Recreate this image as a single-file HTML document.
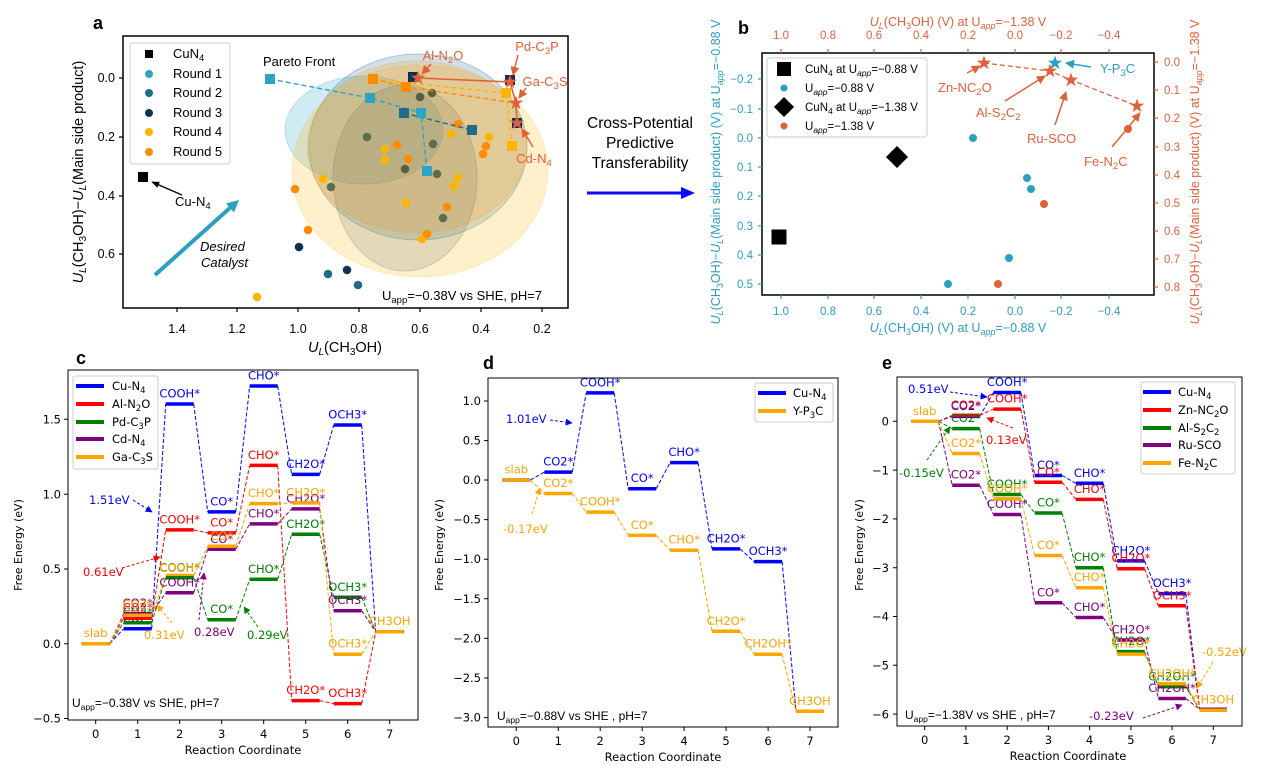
<!DOCTYPE html>
<html><head><meta charset="utf-8"><style>
html,body{margin:0;padding:0;background:#fff;}
svg{display:block}
.A{font-family:"Liberation Sans",Arial,sans-serif}
.D{font-family:"DejaVu Sans","Liberation Sans",sans-serif}
</style></head><body>
<svg width="1267" height="777" viewBox="0 0 1267 777" xmlns="http://www.w3.org/2000/svg">
<defs>
<path id="st" d="M0,-7.5 L1.76,-2.43 L7.13,-2.32 L2.85,0.93 L4.41,6.07 L0,3 L-4.41,6.07 L-2.85,0.93 L-7.13,-2.32 L-1.76,-2.43 Z"/>
<marker id="ak" viewBox="0 0 10 10" refX="9" refY="5" markerWidth="8" markerHeight="8" markerUnits="userSpaceOnUse" orient="auto"><path d="M0,1L10,5L0,9z" fill="#000"/></marker>
<marker id="arr" viewBox="0 0 10 10" refX="9" refY="5" markerWidth="9" markerHeight="9" markerUnits="userSpaceOnUse" orient="auto"><path d="M0,0L10,5L0,10z" fill="#e0603a"/></marker>
<marker id="at" viewBox="0 0 10 10" refX="9" refY="5" markerWidth="9" markerHeight="9" markerUnits="userSpaceOnUse" orient="auto"><path d="M0,0L10,5L0,10z" fill="#2a9fc2"/></marker>
<marker id="ab" viewBox="0 0 10 10" refX="9" refY="5" markerWidth="7" markerHeight="7" markerUnits="userSpaceOnUse" orient="auto"><path d="M0,0L10,5L0,10z" fill="#0000ff"/></marker>
<marker id="ar" viewBox="0 0 10 10" refX="9" refY="5" markerWidth="7" markerHeight="7" markerUnits="userSpaceOnUse" orient="auto"><path d="M0,0L10,5L0,10z" fill="#ff0000"/></marker>
<marker id="ag" viewBox="0 0 10 10" refX="9" refY="5" markerWidth="7" markerHeight="7" markerUnits="userSpaceOnUse" orient="auto"><path d="M0,0L10,5L0,10z" fill="#008000"/></marker>
<marker id="ap" viewBox="0 0 10 10" refX="9" refY="5" markerWidth="7" markerHeight="7" markerUnits="userSpaceOnUse" orient="auto"><path d="M0,0L10,5L0,10z" fill="#800080"/></marker>
<marker id="ao" viewBox="0 0 10 10" refX="9" refY="5" markerWidth="7" markerHeight="7" markerUnits="userSpaceOnUse" orient="auto"><path d="M0,0L10,5L0,10z" fill="#ffa500"/></marker>
</defs>
<rect width="1267" height="777" fill="#fff"/>

<!-- ================= PANEL A ================= -->
<g class="A">
<text x="93" y="29" font-size="18" font-weight="bold">a</text>
<!-- ellipses -->
<ellipse cx="364" cy="130" rx="79" ry="54" fill="#2ea3c4" fill-opacity="0.22" stroke="#2ea3c4" stroke-opacity="0.25"/>
<ellipse cx="418" cy="147" rx="109" ry="93" fill="#1f6b8c" fill-opacity="0.2" stroke="#1f6b8c" stroke-opacity="0.3"/>
<ellipse cx="405" cy="178" rx="72" ry="93" fill="#0e3350" fill-opacity="0.14" stroke="#0e3350" stroke-opacity="0.2"/>
<ellipse cx="420" cy="171" rx="128" ry="106" fill="#ffb400" fill-opacity="0.2" stroke="#ffb400" stroke-opacity="0.2"/>
<ellipse cx="417" cy="147" rx="110" ry="86" fill="#ff8c00" fill-opacity="0.18" stroke="#ff8c00" stroke-opacity="0.2"/>
<!-- points -->
<g fill="#55613d">
<circle cx="420" cy="97" r="4.3"/><circle cx="432" cy="93" r="4.3"/><circle cx="405" cy="169" r="4.3"/>
</g>
<g fill="#5b6e4b">
<circle cx="367" cy="137" r="4.3"/><circle cx="433" cy="144" r="4.3"/><circle cx="437" cy="174" r="4.3"/><circle cx="331" cy="187" r="4.3"/><circle cx="443" cy="218" r="4.3"/>
</g>
<g fill="#ffb400">
<circle cx="385" cy="149" r="4.3"/><circle cx="385" cy="160" r="4.3"/><circle cx="451" cy="134" r="4.3"/><circle cx="489" cy="137" r="4.3"/><circle cx="323" cy="179" r="4.3"/><circle cx="458" cy="178" r="4.3"/><circle cx="454" cy="186" r="4.3"/><circle cx="406" cy="203" r="4.3"/><circle cx="422" cy="239" r="4.3"/><circle cx="257" cy="297" r="4.3"/>
</g>
<g fill="#ff8c00">
<circle cx="458" cy="124" r="4.3"/><circle cx="397" cy="145" r="4.3"/><circle cx="408" cy="159" r="4.3"/><circle cx="486" cy="146" r="4.3"/><circle cx="483" cy="154" r="4.3"/><circle cx="295" cy="189" r="4.3"/><circle cx="308" cy="230" r="4.3"/><circle cx="447" cy="207" r="4.3"/><circle cx="427" cy="234" r="4.3"/>
</g>
<g fill="#0e3350"><circle cx="299" cy="247" r="4.3"/><circle cx="347" cy="270" r="4.3"/></g>
<g fill="#1f6b8c"><circle cx="328" cy="274" r="4.3"/><circle cx="358" cy="285" r="4.3"/></g>
<!-- pareto lines -->
<path d="M270,79 L370,98 L421,113 L427,171" fill="none" stroke="#2ea3c4" stroke-width="1.4" stroke-dasharray="5,3"/>
<path d="M404,113 L472,130" fill="none" stroke="#1f6b8c" stroke-width="1.4" stroke-dasharray="5,3"/>
<path d="M380,80 L506,93 L512,146" fill="none" stroke="#ffb400" stroke-width="1.4" stroke-dasharray="5,3"/>
<path d="M373,79 L406,87 L516,103" fill="none" stroke="#ff8c00" stroke-width="1.4" stroke-dasharray="5,3"/>
<!-- squares -->
<g fill="#2ea3c4"><rect x="265" y="74" width="10" height="10"/><rect x="365" y="93" width="10" height="10"/><rect x="416" y="108" width="10" height="10"/><rect x="422" y="166" width="10" height="10"/></g>
<g fill="#1f6b8c"><rect x="399" y="108" width="10" height="10"/><rect x="467" y="125" width="10" height="10"/></g>
<g fill="#ff8c00"><rect x="368" y="74" width="10" height="10"/><rect x="401" y="82" width="10" height="10"/></g>
<g fill="#ffb400"><rect x="501" y="88" width="10" height="10"/><rect x="507" y="141" width="10" height="10"/></g>
<g fill="#0e3350"><rect x="408" y="72" width="10" height="10"/><rect x="505" y="75" width="10" height="10"/><rect x="512" y="118" width="10" height="10"/></g>
<path d="M418,78 L510,82 L516,103 L517,123" fill="none" stroke="#e0603a" stroke-width="1.6"/>
<g fill="#e0603a">
<use href="#st" x="418" y="78"/><use href="#st" x="510" y="82"/><use href="#st" x="516" y="103"/><use href="#st" x="517" y="123"/>
</g>
<!-- annotations -->
<g fill="#e0603a" font-size="13">
<text x="443" y="60" text-anchor="middle">Al-N<tspan dy="3" font-size="9.5">2</tspan><tspan dy="-3">O</tspan></text>
<text x="537" y="51" text-anchor="middle">Pd-C<tspan dy="3" font-size="9.5">3</tspan><tspan dy="-3">P</tspan></text>
<text x="545" y="86" text-anchor="middle">Ga-C<tspan dy="3" font-size="9.5">3</tspan><tspan dy="-3">S</tspan></text>
<text x="534" y="163" text-anchor="middle">Cd-N<tspan dy="3" font-size="9.5">4</tspan></text>
</g>
<g stroke="#e0603a" stroke-width="1.5" fill="none">
<path d="M431,64 L422,74" marker-end="url(#arr)"/>
<path d="M518,55 L513,75" marker-end="url(#arr)"/>
<path d="M526,88 L519,98" marker-end="url(#arr)"/>
<path d="M533,147 L522,129" marker-end="url(#arr)"/>
</g>
<text x="263" y="66" font-size="13">Pareto Front</text>
<rect x="138" y="172" width="10" height="10" fill="#000"/>
<path d="M182,195 L152,182" stroke="#000" stroke-width="1.3" marker-end="url(#ak)"/>
<text x="175" y="206" font-size="13">Cu-N<tspan dy="3" font-size="9.5">4</tspan></text>
<path d="M155,275 L231,207" stroke="#2a9fc2" stroke-width="4"/>
<polygon points="239,200 234.0,212.5 226.0,203.5" fill="#2a9fc2"/>
<text x="200" y="251" font-size="13" font-style="italic">Desired</text>
<text x="201" y="267" font-size="13" font-style="italic">Catalyst</text>
<text x="382" y="300" font-size="13">U<tspan dy="3" font-size="9.5">app</tspan><tspan dy="-3">=−0.38V vs SHE, pH=7</tspan></text>
<!-- legend -->
<rect x="130" y="43" width="100" height="121" rx="3" fill="#fff" fill-opacity="0.85" stroke="#cccccc"/>
<rect x="145" y="50" width="8" height="8" fill="#000"/>
<circle cx="149" cy="74" r="4" fill="#2ea3c4"/>
<circle cx="149" cy="93" r="4" fill="#1f6b8c"/>
<circle cx="149" cy="113" r="4" fill="#0e3350"/>
<circle cx="149" cy="132" r="4" fill="#ffb400"/>
<circle cx="149" cy="152" r="4" fill="#ff8c00"/>
<g font-size="13">
<text x="173" y="58">CuN<tspan dy="3" font-size="9.5">4</tspan></text>
<text x="173" y="78">Round 1</text>
<text x="173" y="97">Round 2</text>
<text x="173" y="117">Round 3</text>
<text x="173" y="136">Round 4</text>
<text x="173" y="156">Round 5</text>
</g>
<!-- axes -->
<rect x="123" y="36" width="445" height="272" fill="none" stroke="#000" stroke-width="1.5"/>
<path d="M177,308v4M237,308v4M298,308v4M359,308v4M420,308v4M481,308v4M542,308v4M119,78h4M119,137h4M119,196h4M119,254h4" stroke="#000" stroke-width="1.2"/>
<g font-size="12.5" text-anchor="middle">
<text x="177" y="333">1.4</text><text x="237" y="333">1.2</text><text x="298" y="333">1.0</text><text x="359" y="333">0.8</text><text x="420" y="333">0.6</text><text x="481" y="333">0.4</text><text x="542" y="333">0.2</text>
</g>
<g font-size="12.5" text-anchor="end">
<text x="115" y="82">0.0</text><text x="115" y="141">0.2</text><text x="115" y="200">0.4</text><text x="115" y="258">0.6</text>
</g>
<text x="345" y="352" font-size="14.5" text-anchor="middle"><tspan font-style="italic">U</tspan><tspan font-style="italic" dy="3" font-size="10">L</tspan><tspan dy="-3">(CH</tspan><tspan dy="3" font-size="10">3</tspan><tspan dy="-3">OH)</tspan></text>
<text transform="translate(83,172) rotate(-90)" font-size="14.5" text-anchor="middle"><tspan font-style="italic">U</tspan><tspan font-style="italic" dy="3" font-size="10">L</tspan><tspan dy="-3">(CH</tspan><tspan dy="3" font-size="10">3</tspan><tspan dy="-3">OH)−</tspan><tspan font-style="italic">U</tspan><tspan font-style="italic" dy="3" font-size="10">L</tspan><tspan dy="-3">(Main side product)</tspan></text>
</g>

<!-- ================= MIDDLE ================= -->
<g class="A" font-size="15.5" text-anchor="middle">
<text x="640" y="128">Cross-Potential</text>
<text x="640" y="148">Predictive</text>
<text x="640" y="168">Transferability</text>
</g>
<path d="M587,193 L682,193" stroke="#0a0aff" stroke-width="3"/>
<polygon points="695,193 681,187 681,199" fill="#0a0aff"/>

<!-- ================= PANEL B ================= -->
<g class="A">
<text x="738" y="34" font-size="18" font-weight="bold">b</text>
<rect x="762" y="53" width="392" height="242" fill="none" stroke="#000" stroke-width="1.5"/>
<!-- bottom ticks -->
<path d="M781,295v4M828,295v4M874,295v4M921,295v4M968,295v4M1015,295v4M1061,295v4M1109,295v4M758,79h4M758,109h4M758,138h4M758,167h4M758,196h4M758,226h4M758,255h4M758,284h4" stroke="#2a9fc2" stroke-width="1.2"/>
<path d="M781,53v-4M828,53v-4M874,53v-4M921,53v-4M968,53v-4M1015,53v-4M1061,53v-4M1109,53v-4M1154,62h4M1154,90h4M1154,118h4M1154,147h4M1154,175h4M1154,203h4M1154,231h4M1154,259h4M1154,287h4" stroke="#e0603a" stroke-width="1.2"/>
<g font-size="11.5" fill="#2a9fc2" text-anchor="middle">
<text x="781" y="315">1.0</text><text x="828" y="315">0.8</text><text x="874" y="315">0.6</text><text x="921" y="315">0.4</text><text x="968" y="315">0.2</text><text x="1015" y="315">0.0</text><text x="1061" y="315">−0.2</text><text x="1109" y="315">−0.4</text>
</g>
<g font-size="11.5" fill="#2a9fc2" text-anchor="end">
<text x="753" y="83">−0.2</text><text x="753" y="113">−0.1</text><text x="753" y="142">0.0</text><text x="753" y="171">0.1</text><text x="753" y="200">0.2</text><text x="753" y="230">0.3</text><text x="753" y="259">0.4</text><text x="753" y="288">0.5</text>
</g>
<g font-size="11.5" fill="#e0603a" text-anchor="middle">
<text x="781" y="39">1.0</text><text x="828" y="39">0.8</text><text x="874" y="39">0.6</text><text x="921" y="39">0.4</text><text x="968" y="39">0.2</text><text x="1015" y="39">0.0</text><text x="1061" y="39">−0.2</text><text x="1109" y="39">−0.4</text>
</g>
<g font-size="11.5" fill="#e0603a">
<text x="1164" y="66">0.0</text><text x="1164" y="94">0.1</text><text x="1164" y="122">0.2</text><text x="1164" y="151">0.3</text><text x="1164" y="179">0.4</text><text x="1164" y="207">0.5</text><text x="1164" y="235">0.6</text><text x="1164" y="263">0.7</text><text x="1164" y="291">0.8</text>
</g>
<text x="958" y="332" font-size="12.5" fill="#2a9fc2" text-anchor="middle"><tspan font-style="italic">U</tspan><tspan font-style="italic" dy="3" font-size="9">L</tspan><tspan dy="-3">(CH</tspan><tspan dy="3" font-size="9">3</tspan><tspan dy="-3">OH) (V) at U</tspan><tspan dy="3" font-size="9" font-style="italic">app</tspan><tspan dy="-3">=−0.88 V</tspan></text>
<text x="958" y="26" font-size="12.5" fill="#e0603a" text-anchor="middle"><tspan font-style="italic">U</tspan><tspan font-style="italic" dy="3" font-size="9">L</tspan><tspan dy="-3">(CH</tspan><tspan dy="3" font-size="9">3</tspan><tspan dy="-3">OH) (V) at U</tspan><tspan dy="3" font-size="9" font-style="italic">app</tspan><tspan dy="-3">=−1.38 V</tspan></text>
<text transform="translate(720,172) rotate(-90)" font-size="12.5" fill="#2a9fc2" text-anchor="middle"><tspan font-style="italic">U</tspan><tspan font-style="italic" dy="3" font-size="9">L</tspan><tspan dy="-3">(CH</tspan><tspan dy="3" font-size="9">3</tspan><tspan dy="-3">OH)−</tspan><tspan font-style="italic">U</tspan><tspan font-style="italic" dy="3" font-size="9">L</tspan><tspan dy="-3">(Main side product) (V) at U</tspan><tspan dy="3" font-size="9" font-style="italic">app</tspan><tspan dy="-3">=−0.88 V</tspan></text>
<text transform="translate(1199,172) rotate(-90)" font-size="12.5" fill="#e0603a" text-anchor="middle"><tspan font-style="italic">U</tspan><tspan font-style="italic" dy="3" font-size="9">L</tspan><tspan dy="-3">(CH</tspan><tspan dy="3" font-size="9">3</tspan><tspan dy="-3">OH)−</tspan><tspan font-style="italic">U</tspan><tspan font-style="italic" dy="3" font-size="9">L</tspan><tspan dy="-3">(Main side product) (V) at U</tspan><tspan dy="3" font-size="9" font-style="italic">app</tspan><tspan dy="-3">=−1.38 V</tspan></text>
<!-- data -->
<rect x="771.5" y="229.5" width="15" height="15" fill="#000"/>
<polygon points="897,146 908,157 897,168 886,157" fill="#000"/>
<g fill="#2a9fc2"><circle cx="973" cy="138" r="4"/><circle cx="948" cy="284" r="4"/><circle cx="1027" cy="178" r="4"/><circle cx="1031" cy="189" r="4"/><circle cx="1009" cy="258" r="4"/></g>
<g fill="#e0603a"><circle cx="1044" cy="204" r="4"/><circle cx="998" cy="284" r="4"/><circle cx="1128" cy="129" r="4"/></g>
<path d="M984,63 L1050,71 L1071,80 L1137,106" fill="none" stroke="#e0603a" stroke-width="1.3" stroke-dasharray="5,3"/>
<g fill="#e0603a"><use href="#st" x="984" y="63"/><use href="#st" x="1050" y="71"/><use href="#st" x="1071" y="80"/><use href="#st" x="1137" y="106"/></g>
<use href="#st" x="1055" y="63" fill="#2a9fc2"/>
<g font-size="13" fill="#e0603a">
<text x="938" y="92">Zn-NC<tspan dy="3" font-size="9.5">2</tspan><tspan dy="-3">O</tspan></text>
<text x="976" y="117">Al-S<tspan dy="3" font-size="9.5">2</tspan><tspan dy="-3">C</tspan><tspan dy="3" font-size="9.5">2</tspan></text>
<text x="1027" y="143">Ru-SCO</text>
<text x="1084" y="166">Fe-N<tspan dy="3" font-size="9.5">2</tspan><tspan dy="-3">C</tspan></text>
</g>
<text x="1100" y="73" font-size="13" fill="#2a9fc2">Y-P<tspan dy="3" font-size="9.5">3</tspan><tspan dy="-3">C</tspan></text>
<g stroke="#e0603a" stroke-width="1.5" fill="none">
<path d="M967,73 L980,66" marker-end="url(#arr)"/>
<path d="M1005,101 L1045,76" marker-end="url(#arr)"/>
<path d="M1055,125 L1066,92" marker-end="url(#arr)"/>
<path d="M1112,147 L1140,113" marker-end="url(#arr)"/>
</g>
<path d="M1091,67 L1066,63" stroke="#2a9fc2" stroke-width="1.5" marker-end="url(#at)"/>
<!-- legend -->
<rect x="767" y="58" width="160" height="79" rx="3" fill="#fff" fill-opacity="0.85" stroke="#cccccc"/>
<rect x="777" y="62" width="14" height="14" fill="#000"/>
<circle cx="784" cy="88" r="3.5" fill="#2a9fc2"/>
<polygon points="784,97 794,107 784,117 774,107" fill="#000"/>
<circle cx="784" cy="126" r="3.5" fill="#e0603a"/>
<g font-size="11.5">
<text x="805" y="73">CuN<tspan dy="3" font-size="8.5">4</tspan><tspan dy="-3"> at U</tspan><tspan dy="3" font-size="8.5" font-style="italic">app</tspan><tspan dy="-3">=−0.88 V</tspan></text>
<text x="805" y="92">U<tspan dy="3" font-size="8.5" font-style="italic">app</tspan><tspan dy="-3">=−0.88 V</tspan></text>
<text x="805" y="111">CuN<tspan dy="3" font-size="8.5">4</tspan><tspan dy="-3"> at U</tspan><tspan dy="3" font-size="8.5" font-style="italic">app</tspan><tspan dy="-3">=−1.38 V</tspan></text>
<text x="805" y="130">U<tspan dy="3" font-size="8.5" font-style="italic">app</tspan><tspan dy="-3">=−1.38 V</tspan></text>
</g>
</g>

<!-- ================= PANEL C ================= -->
<g class="D">
<text x="76" y="364" font-size="18" font-weight="bold" class="A">c</text>
<!-- Cu blue -->
<path d="M81.7,643.7H109.7M123.7,628.7H151.7M165.7,404H193.7M207.7,511.9H235.7M249.7,386H277.7M291.7,474.4H319.7M333.7,425H361.7M375.7,631.7H403.7" stroke="#0000ff" stroke-width="3.5"/>
<path d="M109.7,643.7L123.7,628.7M151.7,628.7L165.7,404M193.7,404L207.7,511.9M235.7,511.9L249.7,386M277.7,386L291.7,474.4M319.7,474.4L333.7,425M361.7,425L375.7,631.7" stroke="#0000ff" stroke-width="1" stroke-dasharray="4,2" fill="none"/>
<g fill="#0000ff" font-size="11.5" text-anchor="middle">
<text x="137.7" y="622">CO2*</text><text x="179.7" y="397.5">COOH*</text><text x="221.7" y="505.4">CO*</text><text x="263.7" y="379.5">CHO*</text><text x="305.7" y="467.9">CH2O*</text><text x="347.7" y="418.5">OCH3*</text>
</g>
<!-- Al red -->
<path d="M81.7,643.7H109.7M123.7,618.2H151.7M165.7,529.9H193.7M207.7,532.9H235.7M249.7,465.4H277.7M291.7,700.6H319.7M333.7,703.6H361.7M375.7,631.7H403.7" stroke="#ff0000" stroke-width="3.5"/>
<path d="M109.7,643.7L123.7,618.2M151.7,618.2L165.7,529.9M193.7,529.9L207.7,532.9M235.7,532.9L249.7,465.4M277.7,465.4L291.7,700.6M319.7,700.6L333.7,703.6M361.7,703.6L375.7,631.7" stroke="#ff0000" stroke-width="1" stroke-dasharray="4,2" fill="none"/>
<g fill="#ff0000" font-size="11.5" text-anchor="middle">
<text x="137.7" y="611.7">CO2*</text><text x="179.7" y="523.4">COOH*</text><text x="221.7" y="526.4">CO*</text><text x="263.7" y="458.9">CHO*</text><text x="305.7" y="694.1">CH2O*</text><text x="347.7" y="697.1">OCH3*</text>
</g>
<!-- Ga orange COOH drawn beneath green -->
<path d="M165.7,575.5H193.7" stroke="#ffa500" stroke-width="3.5"/>
<!-- Pd green -->
<path d="M81.7,643.7H109.7M123.7,622.7H151.7M165.7,577.8H193.7M207.7,619.7H235.7M249.7,579.3H277.7M291.7,534.3H319.7M333.7,597.3H361.7M375.7,631.7H403.7" stroke="#008000" stroke-width="3.5"/>
<path d="M109.7,643.7L123.7,622.7M151.7,622.7L165.7,577.8M193.7,577.8L207.7,619.7M235.7,619.7L249.7,579.3M277.7,579.3L291.7,534.3M319.7,534.3L333.7,597.3M361.7,597.3L375.7,631.7" stroke="#008000" stroke-width="1" stroke-dasharray="4,2" fill="none"/>
<g fill="#008000" font-size="11.5" text-anchor="middle">
<text x="137.7" y="616.2">CO2*</text><text x="179.7" y="571.3">COOH*</text><text x="221.7" y="613.2">CO*</text><text x="263.7" y="572.8">CHO*</text><text x="305.7" y="527.8">CH2O*</text><text x="347.7" y="590.8">OCH3*</text>
</g>
<!-- Cd purple -->
<path d="M81.7,643.7H109.7M123.7,613.7H151.7M165.7,592.8H193.7M207.7,549.3H235.7M249.7,523.9H277.7M291.7,508.9H319.7M333.7,610.7H361.7M375.7,631.7H403.7" stroke="#800080" stroke-width="3.5"/>
<path d="M109.7,643.7L123.7,613.7M151.7,613.7L165.7,592.8M193.7,592.8L207.7,549.3M235.7,549.3L249.7,523.9M277.7,523.9L291.7,508.9M319.7,508.9L333.7,610.7M361.7,610.7L375.7,631.7" stroke="#800080" stroke-width="1" stroke-dasharray="4,2" fill="none"/>
<g fill="#800080" font-size="11.5" text-anchor="middle">
<text x="137.7" y="607.2">CO2*</text><text x="179.7" y="586.3">COOH*</text><text x="221.7" y="542.8">CO*</text><text x="263.7" y="517.4">CHO*</text><text x="305.7" y="502.4">CH2O*</text><text x="347.7" y="604.2">OCH3*</text>
</g>
<!-- Ga orange -->
<path d="M81.7,643.7H109.7M123.7,615.2H151.7M207.7,546.3H235.7M249.7,503.6H277.7M291.7,502.9H319.7M333.7,654.2H361.7M375.7,631.7H403.7" stroke="#ffa500" stroke-width="3.5"/>
<path d="M109.7,643.7L123.7,615.2M151.7,615.2L165.7,575.5M193.7,575.5L207.7,546.3M235.7,546.3L249.7,503.6M277.7,503.6L291.7,502.9M319.7,502.9L333.7,654.2M361.7,654.2L375.7,631.7" stroke="#ffa500" stroke-width="1" stroke-dasharray="4,2" fill="none"/>
<g fill="#ffa500" font-size="11.5" text-anchor="middle">
<text x="95.7" y="637.2">slab</text><text x="137.7" y="608.7">CO2*</text><text x="179.7" y="572">COOH*</text><text x="221.7" y="539.8">CO*</text><text x="263.7" y="497.1">CHO*</text><text x="305.7" y="496.4">CH2O*</text><text x="347.7" y="647.7">OCH3*</text><text x="389.7" y="625.2">CH3OH</text>
</g>
<!-- annotations -->
<g font-size="11.5">
<text x="89" y="504" fill="#0000ff">1.51eV</text>
<text x="83" y="576" fill="#ff0000">0.61eV</text>
<text x="144" y="639" fill="#ffa500">0.31eV</text>
<text x="194" y="636" fill="#800080">0.28eV</text>
<text x="247" y="639" fill="#008000">0.29eV</text>
</g>
<g stroke-width="1" stroke-dasharray="3,2" fill="none">
<path d="M133,500 L152,512" stroke="#0000ff" marker-end="url(#ab)"/>
<path d="M122,568 L160,557" stroke="#ff0000" marker-end="url(#ar)"/>
<path d="M172,623 L157,605" stroke="#ffa500" marker-end="url(#ao)"/>
<path d="M199,620 L204,573" stroke="#800080" marker-end="url(#ap)"/>
<path d="M258,627 L244,607" stroke="#008000" marker-end="url(#ag)"/>
</g>
<text x="72" y="707" font-size="12" class="A">U<tspan dy="3" font-size="8.5">app</tspan><tspan dy="-3">=−0.38V vs SHE, pH=7</tspan></text>
<!-- legend -->
<rect x="73" y="376" width="85" height="93" rx="2" fill="#fff" fill-opacity="0.85" stroke="#cccccc"/>
<path d="M76,386H104" stroke="#0000ff" stroke-width="4"/>
<path d="M76,404H104" stroke="#ff0000" stroke-width="4"/>
<path d="M76,422H104" stroke="#008000" stroke-width="4"/>
<path d="M76,439H104" stroke="#800080" stroke-width="4"/>
<path d="M76,457H104" stroke="#ffa500" stroke-width="4"/>
<g font-size="11.5">
<text x="112" y="390">Cu-N<tspan dy="3" font-size="8.5">4</tspan></text>
<text x="112" y="408">Al-N<tspan dy="3" font-size="8.5">2</tspan><tspan dy="-3">O</tspan></text>
<text x="112" y="426">Pd-C<tspan dy="3" font-size="8.5">3</tspan><tspan dy="-3">P</tspan></text>
<text x="112" y="443">Cd-N<tspan dy="3" font-size="8.5">4</tspan></text>
<text x="112" y="461">Ga-C<tspan dy="3" font-size="8.5">3</tspan><tspan dy="-3">S</tspan></text>
</g>
<!-- axes -->
<rect x="68" y="370" width="350" height="350" fill="none" stroke="#000" stroke-width="1"/>
<path d="M95.7,720v4M137.7,720v4M179.7,720v4M221.7,720v4M263.7,720v4M305.7,720v4M347.7,720v4M389.7,720v4M64,419.3h4M64,494.2h4M64,569h4M64,643.7h4M64,718.5h4" stroke="#000" stroke-width="1"/>
<g font-size="11.5" text-anchor="middle">
<text x="95.7" y="738">0</text><text x="137.7" y="738">1</text><text x="179.7" y="738">2</text><text x="221.7" y="738">3</text><text x="263.7" y="738">4</text><text x="305.7" y="738">5</text><text x="347.7" y="738">6</text><text x="389.7" y="738">7</text>
<text x="243" y="754">Reaction Coordinate</text>
</g>
<g font-size="11.5" text-anchor="end">
<text x="61" y="423.5">1.5</text><text x="61" y="498.4">1.0</text><text x="61" y="573.2">0.5</text><text x="61" y="647.9">0.0</text><text x="61" y="722.7">−0.5</text>
</g>
<text transform="translate(22,545) rotate(-90)" font-size="11" text-anchor="middle">Free Energy (eV)</text>
</g>

<!-- ================= PANEL D ================= -->
<g class="D">
<text x="483" y="369" font-size="18" font-weight="bold" class="A">d</text>
<!-- Cu -->
<path d="M502.3,480H530.3M544.3,472.1H572.3M586.2,392.9H614.2M628.2,488.7H656.2M670.1,462.6H698.1M712.1,548.9H740.1M754.1,561.6H782.1M796,711.3H824" stroke="#0000ff" stroke-width="3.5"/>
<path d="M530.3,480L544.3,472.1M572.3,472.1L586.2,392.9M614.2,392.9L628.2,488.7M656.2,488.7L670.1,462.6M698.1,462.6L712.1,548.9M740.1,548.9L754.1,561.6M782.1,561.6L796,711.3" stroke="#0000ff" stroke-width="1" stroke-dasharray="4,2" fill="none"/>
<g fill="#0000ff" font-size="11.5" text-anchor="middle">
<text x="558.3" y="465.6">CO2*</text><text x="600.2" y="386.4">COOH*</text><text x="642.2" y="482.2">CO*</text><text x="684.1" y="456.1">CHO*</text><text x="726.1" y="542.4">CH2O*</text><text x="768.1" y="555.1">OCH3*</text>
</g>
<!-- Y-P3C -->
<path d="M502.3,480H530.3M544.3,493.5H572.3M586.2,512.1H614.2M628.2,535.4H656.2M670.1,550.2H698.1M712.1,631.3H740.1M754.1,654.2H782.1M796,711.3H824" stroke="#ffa500" stroke-width="3.5"/>
<path d="M530.3,480L544.3,493.5M572.3,493.5L586.2,512.1M614.2,512.1L628.2,535.4M656.2,535.4L670.1,550.2M698.1,550.2L712.1,631.3M740.1,631.3L754.1,654.2M782.1,654.2L796,711.3" stroke="#ffa500" stroke-width="1" stroke-dasharray="4,2" fill="none"/>
<g fill="#ffa500" font-size="11.5" text-anchor="middle">
<text x="516.3" y="473.5">slab</text><text x="558.3" y="487">CO2*</text><text x="600.2" y="505.6">COOH*</text><text x="642.2" y="528.9">CO*</text><text x="684.1" y="543.7">CHO*</text><text x="726.1" y="624.8">CH2O*</text><text x="768.1" y="647.7">CH2OH*</text><text x="810" y="704.8">CH3OH</text>
</g>
<text x="506" y="423" font-size="11.5" fill="#0000ff">1.01eV</text>
<text x="503" y="533" font-size="11.5" fill="#ffa500">-0.17eV</text>
<path d="M550,420 L572,423" stroke="#0000ff" stroke-width="1" stroke-dasharray="3,2" marker-end="url(#ab)"/>
<path d="M532,514 L540,488" stroke="#ffa500" stroke-width="1" stroke-dasharray="3,2" marker-end="url(#ao)"/>
<text x="497" y="720" font-size="12" class="A">U<tspan dy="3" font-size="8.5">app</tspan><tspan dy="-3">=−0.88V vs SHE , pH=7</tspan></text>
<rect x="755" y="383" width="78" height="39" rx="2" fill="#fff" fill-opacity="0.85" stroke="#cccccc"/>
<path d="M758,393H786" stroke="#0000ff" stroke-width="4"/>
<path d="M758,411H786" stroke="#ffa500" stroke-width="4"/>
<g font-size="11.5">
<text x="793" y="397">Cu-N<tspan dy="3" font-size="8.5">4</tspan></text>
<text x="793" y="415">Y-P<tspan dy="3" font-size="8.5">3</tspan><tspan dy="-3">C</tspan></text>
</g>
<rect x="488" y="378" width="350" height="349" fill="none" stroke="#000" stroke-width="1"/>
<path d="M516.3,727v4M558.3,727v4M600.2,727v4M642.2,727v4M684.1,727v4M726.1,727v4M768.1,727v4M810,727v4M484,401h4M484,440.6h4M484,480h4M484,519.6h4M484,559.2h4M484,598.8h4M484,638.4h4M484,678h4M484,717.6h4" stroke="#000" stroke-width="1"/>
<g font-size="11.5" text-anchor="middle">
<text x="516.3" y="745">0</text><text x="558.3" y="745">1</text><text x="600.2" y="745">2</text><text x="642.2" y="745">3</text><text x="684.1" y="745">4</text><text x="726.1" y="745">5</text><text x="768.1" y="745">6</text><text x="810" y="745">7</text>
<text x="663" y="761">Reaction Coordinate</text>
</g>
<g font-size="11.5" text-anchor="end">
<text x="481" y="405">1.0</text><text x="481" y="444.6">0.5</text><text x="481" y="484">0.0</text><text x="481" y="523.6">−0.5</text><text x="481" y="563.2">−1.0</text><text x="481" y="602.8">−1.5</text><text x="481" y="642.4">−2.0</text><text x="481" y="682">−2.5</text><text x="481" y="721.6">−3.0</text>
</g>
<text transform="translate(443,545) rotate(-90)" font-size="11" text-anchor="middle">Free Energy (eV)</text>
</g>

<!-- ================= PANEL E ================= -->
<g class="D">
<text x="882" y="369" font-size="18" font-weight="bold" class="A">e</text>
<!-- Cu -->
<path d="M911,421.3H938.4M952.2,416.4H979.6M993.5,392.5H1020.9M1034.7,475.5H1062.1M1075.9,483.3H1103.3M1117.2,560.9H1144.6M1158.4,593.6H1185.8M1199.6,709.2H1227" stroke="#0000ff" stroke-width="3.5"/>
<path d="M938.4,421.3L952.2,416.4M979.6,416.4L993.5,392.5M1020.9,392.5L1034.7,475.5M1062.1,475.5L1075.9,483.3M1103.3,483.3L1117.2,560.9M1144.6,560.9L1158.4,593.6M1185.8,593.6L1199.6,709.2" stroke="#0000ff" stroke-width="1" stroke-dasharray="4,2" fill="none"/>
<g fill="#0000ff" font-size="11.5" text-anchor="middle">
<text x="965.9" y="409.9">CO2*</text><text x="1007.2" y="386">COOH*</text><text x="1048.4" y="469">CO*</text><text x="1089.6" y="476.8">CHO*</text><text x="1130.9" y="554.4">CH2O*</text><text x="1172.1" y="587.1">OCH3*</text>
</g>
<!-- Zn red -->
<path d="M911,421.3H938.4M952.2,415.4H979.6M993.5,409.1H1020.9M1034.7,482.3H1062.1M1075.9,499.4H1103.3M1117.2,568.7H1144.6M1158.4,605.8H1185.8M1199.6,709.2H1227" stroke="#ff0000" stroke-width="3.5"/>
<path d="M938.4,421.3L952.2,415.4M979.6,415.4L993.5,409.1M1020.9,409.1L1034.7,482.3M1062.1,482.3L1075.9,499.4M1103.3,499.4L1117.2,568.7M1144.6,568.7L1158.4,605.8M1185.8,605.8L1199.6,709.2" stroke="#ff0000" stroke-width="1" stroke-dasharray="4,2" fill="none"/>
<g fill="#ff0000" font-size="11.5" text-anchor="middle">
<text x="965.9" y="408.9">CO2*</text><text x="1007.2" y="402.6">COOH*</text><text x="1048.4" y="475.8">CO*</text><text x="1089.6" y="492.9">CHO*</text><text x="1130.9" y="562.2">CH2O*</text><text x="1172.1" y="599.3">OCH3*</text>
</g>
<!-- Al green -->
<path d="M911,421.3H938.4M952.2,428.6H979.6M993.5,494.5H1020.9M1034.7,513H1062.1M1075.9,567.7H1103.3M1117.2,651.6H1144.6M1158.4,686.8H1185.8M1199.6,709.2H1227" stroke="#008000" stroke-width="3.5"/>
<path d="M938.4,421.3L952.2,428.6M979.6,428.6L993.5,494.5M1020.9,494.5L1034.7,513M1062.1,513L1075.9,567.7M1103.3,567.7L1117.2,651.6M1144.6,651.6L1158.4,686.8M1185.8,686.8L1199.6,709.2" stroke="#008000" stroke-width="1" stroke-dasharray="4,2" fill="none"/>
<g fill="#008000" font-size="11.5" text-anchor="middle">
<text x="965.9" y="422.1">CO2*</text><text x="1007.2" y="488">COOH*</text><text x="1048.4" y="506.5">CO*</text><text x="1089.6" y="561.2">CHO*</text><text x="1130.9" y="645.1">CH2O*</text><text x="1172.1" y="680.3">CH2OH*</text>
</g>
<!-- Ru purple -->
<path d="M911,421.3H938.4M952.2,485.2H979.6M993.5,514.5H1020.9M1034.7,602.8H1062.1M1075.9,617.5H1103.3M1117.2,640H1144.6M1158.4,698.5H1185.8M1199.6,709.2H1227" stroke="#800080" stroke-width="3.5"/>
<path d="M938.4,421.3L952.2,485.2M979.6,485.2L993.5,514.5M1020.9,514.5L1034.7,602.8M1062.1,602.8L1075.9,617.5M1103.3,617.5L1117.2,640M1144.6,640L1158.4,698.5M1185.8,698.5L1199.6,709.2" stroke="#800080" stroke-width="1" stroke-dasharray="4,2" fill="none"/>
<g fill="#800080" font-size="11.5" text-anchor="middle">
<text x="965.9" y="478.7">CO2*</text><text x="1007.2" y="508">COOH*</text><text x="1048.4" y="596.3">CO*</text><text x="1089.6" y="611">CHO*</text><text x="1130.9" y="633.5">CH2O*</text><text x="1172.1" y="692">CH2OH*</text>
</g>
<!-- Fe orange -->
<path d="M911,421.3H938.4M952.2,453.5H979.6M993.5,498.9H1020.9M1034.7,555.5H1062.1M1075.9,587.7H1103.3M1117.2,654.1H1144.6M1158.4,683.8H1185.8M1199.6,710.2H1227" stroke="#ffa500" stroke-width="3.5"/>
<path d="M938.4,421.3L952.2,453.5M979.6,453.5L993.5,498.9M1020.9,498.9L1034.7,555.5M1062.1,555.5L1075.9,587.7M1103.3,587.7L1117.2,654.1M1144.6,654.1L1158.4,683.8M1185.8,683.8L1199.6,710.2" stroke="#ffa500" stroke-width="1" stroke-dasharray="4,2" fill="none"/>
<g fill="#ffa500" font-size="11.5" text-anchor="middle">
<text x="924.7" y="414.8">slab</text><text x="965.9" y="447">CO2*</text><text x="1007.2" y="492.4">COOH*</text><text x="1048.4" y="549">CO*</text><text x="1089.6" y="581.2">CHO*</text><text x="1130.9" y="647.6">CH2O*</text><text x="1172.1" y="677.3">CH2OH*</text><text x="1213.3" y="703.7">CH3OH</text>
</g>
<!-- annotations -->
<g font-size="11.5">
<text x="908" y="393" fill="#0000ff">0.51eV</text>
<text x="986" y="444" fill="#ff0000">0.13eV</text>
<text x="899" y="477" fill="#008000">-0.15eV</text>
<text x="1202" y="656" fill="#ffa500">-0.52eV</text>
<text x="1089" y="720" fill="#800080">-0.23eV</text>
</g>
<g stroke-width="1" stroke-dasharray="3,2" fill="none">
<path d="M950,392 L987,397" stroke="#0000ff" marker-end="url(#ab)"/>
<path d="M1013,428 L987,418" stroke="#ff0000" marker-end="url(#ar)"/>
<path d="M927,460 L950,427" stroke="#008000" marker-end="url(#ag)"/>
<path d="M1213,662 L1197,688" stroke="#ffa500" marker-end="url(#ao)"/>
<path d="M1143,718 L1182,705" stroke="#800080" marker-end="url(#ap)"/>
</g>
<text x="905" y="719" font-size="12" class="A">U<tspan dy="3" font-size="8.5">app</tspan><tspan dy="-3">=−1.38V vs SHE , pH=7</tspan></text>
<!-- legend -->
<rect x="1141" y="382" width="94" height="92" rx="2" fill="#fff" fill-opacity="0.85" stroke="#cccccc"/>
<path d="M1143,392H1171" stroke="#0000ff" stroke-width="4"/>
<path d="M1143,410H1171" stroke="#ff0000" stroke-width="4"/>
<path d="M1143,428H1171" stroke="#008000" stroke-width="4"/>
<path d="M1143,445H1171" stroke="#800080" stroke-width="4"/>
<path d="M1143,463H1171" stroke="#ffa500" stroke-width="4"/>
<g font-size="11.5">
<text x="1178" y="396">Cu-N<tspan dy="3" font-size="8.5">4</tspan></text>
<text x="1178" y="414">Zn-NC<tspan dy="3" font-size="8.5">2</tspan><tspan dy="-3">O</tspan></text>
<text x="1178" y="432">Al-S<tspan dy="3" font-size="8.5">2</tspan><tspan dy="-3">C</tspan><tspan dy="3" font-size="8.5">2</tspan></text>
<text x="1178" y="449">Ru-SCO</text>
<text x="1178" y="467">Fe-N<tspan dy="3" font-size="8.5">2</tspan><tspan dy="-3">C</tspan></text>
</g>
<!-- axes -->
<rect x="897" y="377" width="345" height="349" fill="none" stroke="#000" stroke-width="1"/>
<path d="M924.7,726v4M965.9,726v4M1007.2,726v4M1048.4,726v4M1089.6,726v4M1130.9,726v4M1172.1,726v4M1213.3,726v4M893,421.3h4M893,470.1h4M893,518.9h4M893,567.7h4M893,616.5h4M893,665.3h4M893,714.1h4" stroke="#000" stroke-width="1"/>
<g font-size="11.5" text-anchor="middle">
<text x="924.7" y="744">0</text><text x="965.9" y="744">1</text><text x="1007.2" y="744">2</text><text x="1048.4" y="744">3</text><text x="1089.6" y="744">4</text><text x="1130.9" y="744">5</text><text x="1172.1" y="744">6</text><text x="1213.3" y="744">7</text>
<text x="1068" y="760">Reaction Coordinate</text>
</g>
<g font-size="11.5" text-anchor="end">
<text x="889" y="425.5">0</text><text x="889" y="474.3">−1</text><text x="889" y="523.1">−2</text><text x="889" y="571.9">−3</text><text x="889" y="620.7">−4</text><text x="889" y="669.5">−5</text><text x="889" y="718.3">−6</text>
</g>
<text transform="translate(863,545) rotate(-90)" font-size="11" text-anchor="middle">Free Energy (eV)</text>
</g>
</svg>
</body></html>
